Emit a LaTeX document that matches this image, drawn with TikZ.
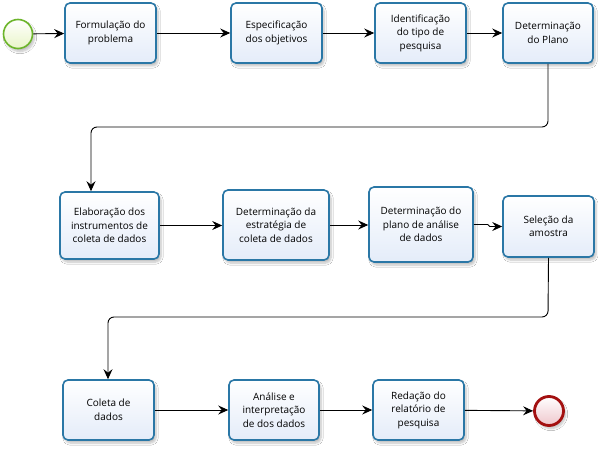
\documentclass[tikz,border=0pt]{standalone}
\usepackage{fontspec}
\setmainfont{Open Sans}
\usetikzlibrary{arrows.meta,shadows.blur}
\definecolor{boxborder}{HTML}{2A77A6}
\definecolor{boxfill}{HTML}{E4ECF9}
\definecolor{startborder}{HTML}{6CB52A}
\definecolor{startfill}{HTML}{E9F5C8}
\definecolor{endborder}{HTML}{A31010}
\definecolor{endfill}{HTML}{EFC6CC}
\tikzset{
  taskbox/.style={draw=boxborder, line width=1.6pt, rounded corners=5pt,
    top color=white, bottom color=boxfill, align=center, inner sep=2pt,
    font=\fontsize{10}{13.5}\selectfont, text=black,
    blur shadow={shadow xshift=2pt, shadow yshift=-3pt, shadow blur steps=6, shadow opacity=25}},
  startev/.style={circle, draw=startborder, line width=1.6pt, minimum size=29pt, inner sep=0pt,
    top color=white, bottom color=startfill,
    blur shadow={shadow xshift=2pt, shadow yshift=-3pt, shadow blur steps=6, shadow opacity=25}},
  endev/.style={circle, draw=endborder, line width=2.8pt, minimum size=29pt, inner sep=0pt,
    top color=white, bottom color=endfill,
    blur shadow={shadow xshift=2pt, shadow yshift=-3pt, shadow blur steps=6, shadow opacity=25}},
  flow/.style={draw=black, line width=0.9pt, -{Stealth[length=10pt,width=9pt,inset=3.5pt]}},
}
\begin{document}
\begin{tikzpicture}[x=1pt,y=-1pt]
\useasboundingbox (0,0) rectangle (598,449);
\fill[white] (0,0) rectangle (598,449);

\node[startev] (s) at (18,34) {};
\node[taskbox, minimum width=91pt, minimum height=60pt] (b1) at (110.5,33) {Formulação do\\problema};
\node[taskbox, minimum width=91pt, minimum height=60pt] (b2) at (276.5,33) {Especificação\\dos objetivos};
\node[taskbox, minimum width=91pt, minimum height=60pt] (b3) at (420.5,33) {Identificação\\do tipo de\\pesquisa};
\node[taskbox, minimum width=90pt, minimum height=60pt] (b4) at (548,33) {Determinação\\do Plano};

\node[taskbox, minimum width=99pt, minimum height=67pt] (b5) at (109.5,225.5) {Elaboração dos\\instrumentos de\\coleta de dados};
\node[taskbox, minimum width=106pt, minimum height=70pt] (b6) at (276,225) {Determinação da\\estratégia de\\coleta de dados};
\node[taskbox, minimum width=104pt, minimum height=75pt] (b7) at (421,224.5) {Determinação do\\plano de análise\\de dados};
\node[taskbox, minimum width=91pt, minimum height=61pt] (b8) at (548.5,226.5) {Seleção da\\amostra};

\node[taskbox, minimum width=91pt, minimum height=60pt] (b9) at (108.5,410) {Coleta de\\dados};
\node[taskbox, minimum width=90pt, minimum height=60pt] (b10) at (274,410) {Análise e\\interpretação\\de dos dados};
\node[taskbox, minimum width=91pt, minimum height=60pt] (b11) at (418.5,410) {Redação do\\relatório de\\pesquisa};
\node[endev] (e) at (549,411) {};

\coordinate (k1) at (548,127);
\coordinate (k2) at (91,127);
\coordinate (k3) at (548,317);
\coordinate (k4) at (108,317);

\draw[flow] (s) -- (b1);
\draw[flow] (b1) -- (b2);
\draw[flow] (b2) -- (b3);
\draw[flow] (b3) -- (b4);
\draw[flow, rounded corners=6pt] (b4.south) -- (k1) -- (k2) -- (k2 |- b5.north);
\draw[flow] (b5.east) -- (b5.east -| b6.west);
\draw[flow] (b6.east) -- (b6.east -| b7.west);
\draw[flow] (b7.east) -- ++(14,0) -- ++(2,2) -- (b8.west);
\draw[flow, rounded corners=6pt] (b8.south) -- (k3) -- (k4) -- (k4 |- b9.north);
\draw[flow] (b9) -- (b10);
\draw[flow] (b10) -- (b11);
\draw[flow] (b11) -- (e);
\end{tikzpicture}
\end{document}
